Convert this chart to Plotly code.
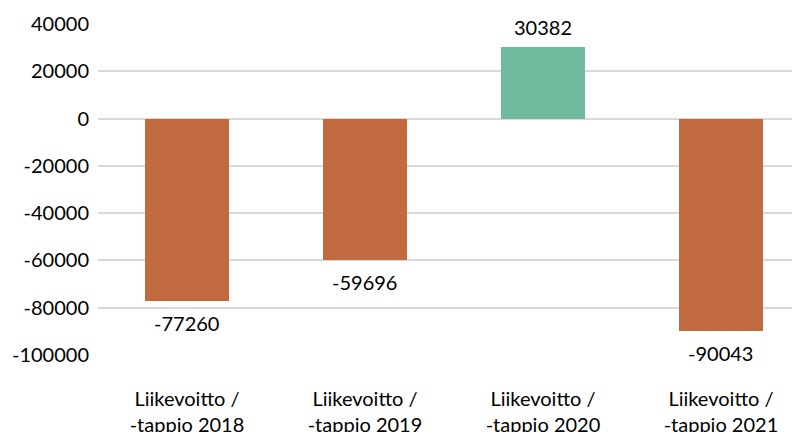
import plotly.graph_objects as go

categories = ["Liikevoitto /<br>-tappio 2018", "Liikevoitto /<br>-tappio 2019",
              "Liikevoitto /<br>-tappio 2020", "Liikevoitto /<br>-tappio 2021"]
values = [-77260, -59696, 30382, -90043]
tick_vals = [40000, 20000, 0, -20000, -40000, -60000, -80000, -100000]

NEG = "#C16A3F"
POS = "#70BA9E"
colors = [POS if v >= 0 else NEG for v in values]
xs = list(range(len(categories)))

fig = go.Figure(go.Bar(
    x=xs, y=values,
    marker=dict(color=colors, line=dict(width=0)),
    width=0.472,
    cliponaxis=False,
))

for x, v in zip(xs, values):
    fig.add_annotation(
        x=x, y=v, text=str(v), showarrow=False,
        xanchor="center", yanchor="middle",
        yshift=20 if v >= 0 else -22,
        font=dict(family="Lato", size=20, color="#000000"),
    )

fig.update_layout(
    width=800, height=432,
    margin=dict(l=90, r=0, t=16, b=85),
    paper_bgcolor="white", plot_bgcolor="white",
    showlegend=False,
    font=dict(family="Lato", size=20, color="#000000"),
    bargap=0,
)
fig.update_xaxes(
    tickvals=xs, ticktext=categories,
    range=[-0.5, 3.489], showgrid=False, showline=False, zeroline=False,
    ticks="", ticklabelstandoff=30,
    tickfont=dict(family="Lato", size=20, color="#000000"),
)
fig.update_yaxes(
    range=[-100000, 40000], tickvals=tick_vals,
    ticktext=[str(v) for v in tick_vals],
    showgrid=True, gridcolor="#D9D9D9", gridwidth=1.5,
    zeroline=True, zerolinecolor="#D9D9D9", zerolinewidth=1.5,
    showline=False, ticks="", ticklabelstandoff=8,
    tickfont=dict(family="Lato", size=20, color="#000000"),
)

fig.write_html("out.html")
